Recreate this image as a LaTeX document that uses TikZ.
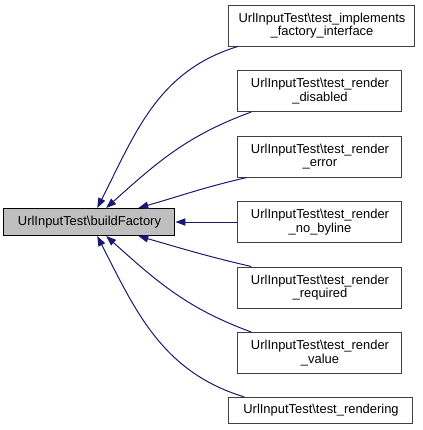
\documentclass[tikz,border=0pt]{standalone}
\usepackage{fontspec}
\setmainfont{Liberation Sans}
\definecolor{edgeblue}{RGB}{25,25,112}
\definecolor{focusgray}{RGB}{191,191,191}
\definecolor{boxline}{RGB}{64,64,64}
\usetikzlibrary{arrows.meta}
\newdimen\pxu \pxu=0.75pt

\tikzset{
  callerbox/.style={draw=boxline, line width=0.75pt, fill=white, align=center,
                    inner sep=0pt, minimum height=41\pxu,
                    font=\fontsize{9.7}{10}\selectfont},
  focusbox/.style={draw=black, line width=0.75pt, fill=focusgray, inner sep=0pt,
                   minimum width=171\pxu, minimum height=27\pxu,
                   font=\fontsize{9.7}{10}\selectfont},
  calledge/.style={draw=edgeblue, line width=0.75pt,
                   -{Triangle[length=7.5pt,width=5.5pt]}}
}

\begin{document}
\begin{tikzpicture}[x=0.75pt, y=-0.75pt]
    \fill[white] (0,0) rectangle (423,430);
    \useasboundingbox (0,0) rectangle (423,430);
    \node[focusbox] (build) at (89.5,222) {UrlInputTest\textbackslash buildFactory};

    \node[callerbox, minimum width=186\pxu] (impl) at (322,25.5)
      {UrlInputTest\textbackslash test\_implements\\\_factory\_interface};
    \node[callerbox, minimum width=164\pxu] (disabled) at (320,91)
      {UrlInputTest\textbackslash test\_render\\\_disabled};
    \node[callerbox, minimum width=164\pxu] (error) at (320,156.5)
      {UrlInputTest\textbackslash test\_render\\\_error};
    \node[callerbox, minimum width=164\pxu] (byline) at (320,222)
      {UrlInputTest\textbackslash test\_render\\\_no\_byline};
    \node[callerbox, minimum width=164\pxu] (required) at (320,287.5)
      {UrlInputTest\textbackslash test\_render\\\_required};
    \node[callerbox, minimum width=164\pxu] (value) at (320,353)
      {UrlInputTest\textbackslash test\_render\\\_value};
    \node[callerbox, minimum width=184\pxu, minimum height=26\pxu] (rendering) at (321,410.5)
      {UrlInputTest\textbackslash test\_rendering};

    \draw[calledge] (impl.194) to[out=197, in=63] (build.61);
    \draw[calledge] (disabled.197) to[out=200, in=42] (build.40);
    \draw[calledge] (error.196) to[out=193, in=16] (build.16);
    \draw[calledge] (byline.west) -- (build.east);
    \draw[calledge] (required.163) to[out=167, in=-16] (build.-16);
    \draw[calledge] (value.163) to[out=160, in=-42] (build.-40);
    \draw[calledge] (rendering.170) to[out=163, in=-63] (build.-61);
\end{tikzpicture}
\end{document}
